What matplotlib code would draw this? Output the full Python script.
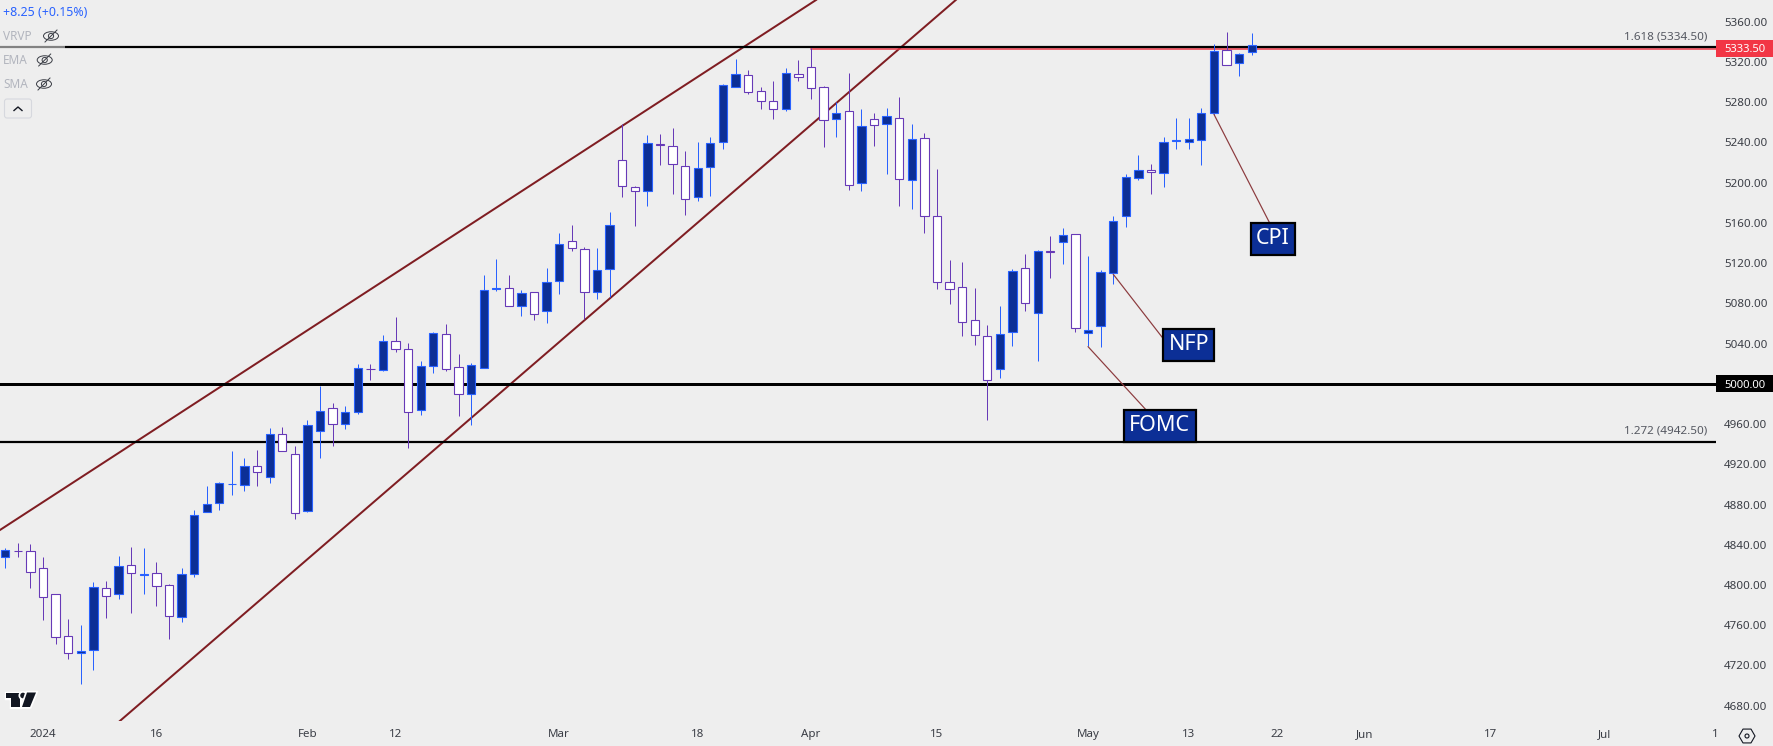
import matplotlib
matplotlib.use('Agg')
import matplotlib.pyplot as plt
import matplotlib.patheffects as pe
from matplotlib.patches import Circle, Ellipse, FancyBboxPatch, Polygon, Rectangle, RegularPolygon

plt.rcParams['font.family'] = ['Noto Sans', 'DejaVu Sans']

opens = [
    4827.5, 4834.0, 4834.1, 4817.2, 4790.7, 4749.6, 4732.0, 4735.0, 4797.3, 4790.7,
    4820.2, 4810.4, 4811.6, 4799.7, 4767.8, 4810.6, 4872.2, 4881.2, 4900.2, 4899.1,
    4918.6, 4907.7, 4949.8, 4929.9, 4873.9, 4952.7, 4975.6, 4959.7, 4971.6, 5014.9,
    5014.0, 5042.2, 5034.3, 4973.6, 5017.4, 5049.2, 5016.4, 4989.5, 5015.4, 5094.7,
    5094.9, 5077.0, 5090.9, 5072.0, 5101.9, 5141.7, 5133.7, 5090.9, 5113.8, 5222.2,
    5195.3, 5191.4, 5238.3, 5236.1, 5216.2, 5185.4, 5215.2, 5240.1, 5294.7, 5306.7,
    5290.8, 5280.8, 5272.9, 5307.7, 5314.6, 5294.8, 5262.9, 5270.9, 5199.3, 5262.9,
    5258.0, 5263.9, 5202.3, 5244.0, 5166.5, 5100.9, 5095.9, 5063.1, 5047.2, 5014.4,
    5051.2, 5114.8, 5070.1, 5131.9, 5140.6, 5148.6, 5050.2, 5057.1, 5109.8, 5166.5,
    5204.3, 5212.2, 5209.2, 5241.8, 5240.1, 5242.0, 5268.9, 5331.5, 5318.6, 5329.5,
]
closes = [
    4834.5, 4833.6, 4812.6, 4787.7, 4748.0, 4732.0, 4734.7, 4797.7, 4789.4, 4819.2,
    4811.6, 4810.8, 4798.7, 4768.8, 4810.6, 4869.3, 4880.2, 4901.1, 4900.6, 4918.6,
    4912.0, 4949.8, 4932.9, 4871.2, 4958.7, 4972.6, 4959.7, 4971.7, 5015.4, 5014.5,
    5042.2, 5034.9, 4972.3, 5017.4, 5050.2, 5014.4, 4989.5, 5018.4, 5092.9, 5095.1,
    5077.0, 5089.9, 5069.1, 5100.9, 5138.7, 5134.7, 5090.9, 5112.8, 5157.6, 5196.3,
    5191.4, 5239.1, 5237.9, 5218.2, 5183.4, 5214.2, 5239.1, 5296.7, 5307.7, 5289.8,
    5280.8, 5272.9, 5308.7, 5304.7, 5293.8, 5261.9, 5268.9, 5197.3, 5255.9, 5257.0,
    5265.9, 5203.3, 5243.0, 5166.5, 5100.9, 5093.9, 5061.1, 5048.2, 5003.4, 5049.2,
    5111.8, 5080.0, 5131.7, 5131.5, 5147.6, 5055.1, 5053.1, 5110.8, 5161.5, 5205.3,
    5212.2, 5210.2, 5240.1, 5242.2, 5243.0, 5268.9, 5330.5, 5316.6, 5327.6, 5336.5,
]
highs = [
    4836.4, 4841.4, 4840.8, 4827.5, 4790.7, 4766.2, 4759.9, 4803.0, 4804.0, 4828.8,
    4837.8, 4836.8, 4822.9, 4801.0, 4816.9, 4874.2, 4898.4, 4902.1, 4933.2, 4925.9,
    4934.2, 4956.1, 4957.1, 4938.2, 4964.0, 4997.8, 4980.9, 4978.0, 5019.7, 5019.7,
    5048.5, 5066.4, 5040.6, 5022.7, 5051.5, 5059.4, 5029.6, 5020.4, 5108.2, 5124.1,
    5108.2, 5092.9, 5090.9, 5115.1, 5149.6, 5157.9, 5135.7, 5135.0, 5170.8, 5258.0,
    5196.3, 5247.4, 5248.4, 5254.3, 5231.5, 5240.4, 5245.4, 5298.1, 5322.9, 5312.0,
    5295.1, 5301.0, 5314.0, 5321.9, 5333.9, 5296.0, 5280.5, 5309.0, 5273.2, 5269.2,
    5274.2, 5285.1, 5258.3, 5249.3, 5213.6, 5123.1, 5121.1, 5095.2, 5058.5, 5077.4,
    5113.8, 5129.0, 5132.7, 5146.9, 5154.9, 5148.6, 5127.0, 5112.8, 5166.8, 5208.3,
    5227.5, 5218.5, 5245.4, 5264.3, 5264.2, 5274.2, 5337.8, 5349.8, 5328.6, 5348.8,
]
lows = [
    4817.2, 4828.2, 4797.3, 4765.5, 4741.7, 4726.8, 4701.9, 4715.8, 4767.5, 4786.4,
    4772.5, 4791.4, 4779.4, 4746.6, 4763.5, 4808.3, 4872.2, 4874.9, 4889.8, 4893.8,
    4898.7, 4901.7, 4932.9, 4865.9, 4872.6, 4926.6, 4938.5, 4955.4, 4970.0, 5003.8,
    5012.7, 5031.6, 4936.5, 4969.3, 5011.1, 5013.1, 4968.3, 4959.4, 5015.4, 5092.6,
    5077.0, 5067.7, 5063.8, 5060.8, 5089.6, 5132.4, 5064.1, 5084.6, 5086.6, 5186.1,
    5157.2, 5177.1, 5217.9, 5189.0, 5168.2, 5182.1, 5187.0, 5233.8, 5294.7, 5288.5,
    5273.5, 5263.6, 5271.5, 5301.4, 5283.5, 5235.8, 5245.7, 5193.0, 5192.0, 5236.8,
    5208.9, 5177.1, 5174.1, 5150.3, 5094.6, 5079.7, 5047.9, 5038.9, 4964.3, 5006.1,
    5037.9, 5072.7, 5023.0, 5105.5, 5119.4, 5051.8, 5037.9, 5036.9, 5099.5, 5156.2,
    5202.9, 5189.0, 5196.0, 5233.8, 5233.8, 5217.9, 5266.9, 5316.6, 5306.3, 5327.2,
]

x_tick_pos = [3, 12, 24, 31, 44, 55, 64, 74, 86, 94, 101, 108, 118, 127, 135.8]
x_tick_labels = ['2024', '16', 'Feb', '12', 'Mar', '18', 'Apr', '15', 'May', '13',
                 '22', 'Jun', '17', 'Jul', '1']
y_ticks = list(range(4680, 5361, 40))

upper_channel_x = [-0.42, 64.4]
upper_channel_y = [4854.7, 5381.6]
lower_channel_x = [9.1, 75.5]
lower_channel_y = [4664.8, 5381.6]

fib_1618 = 5334.5
fib_1272 = 4942.5
round_level = 5000.0
last_price = 5333.5
last_line_start = 64

BG = '#eeeeee'
UP_FILL = '#0c2f96'
UP_EDGE = '#2962ff'
DOWN_EDGE = '#673ab7'
CHANNEL = '#7f1d22'
NOTE_LINE = '#8c3b3e'
TEXT = '#3a3d45'
PX = 0.72

fig = plt.figure(figsize=(17.73, 7.46), dpi=100, facecolor=BG)
ax = fig.add_axes([0, 25 / 746, 1716 / 1773, 721 / 746], facecolor=BG)
ax.set_xlim(-0.42, 135.88)
ax.set_ylim(4664.8, 5381.57)
for s in ax.spines.values():
    s.set_visible(False)

# channel and levels sit under the candles
ax.plot(upper_channel_x, upper_channel_y, color=CHANNEL, lw=2 * PX, zorder=1)
ax.plot(lower_channel_x, lower_channel_y, color=CHANNEL, lw=2 * PX, zorder=1)
ax.plot([last_line_start, 135.88], [last_price - 0.8, last_price - 0.8], color='#f23645',
        lw=1.5 * PX, zorder=1.4)
ax.axhline(fib_1618, color='black', lw=2.2 * PX, zorder=1.5)
ax.axhline(fib_1272, color='black', lw=2.2 * PX, zorder=1.5)
ax.axhline(round_level, color='black', lw=3 * PX, zorder=1.5)

for i, (o, h, l, c) in enumerate(zip(opens, highs, lows, closes)):
    up = c >= o
    edge = UP_EDGE if up else DOWN_EDGE
    fill = UP_FILL if up else 'white'
    ax.vlines(i, l, h, color=edge, lw=PX, zorder=3)
    ax.bar(i, abs(c - o), bottom=min(o, c), width=0.66, facecolor=fill, edgecolor=edge,
           linewidth=1.1 * PX, zorder=4)

ax.yaxis.tick_right()
ax.set_yticks(y_ticks)
ax.set_yticklabels([f'{v:.2f}' for v in y_ticks])
ax.tick_params(axis='y', length=0, pad=5.8, labelsize=8.3, labelcolor=TEXT)
ax.set_xticks(x_tick_pos)
ax.set_xticklabels(x_tick_labels)
ax.tick_params(axis='x', length=0, pad=5.5, labelsize=8.3, labelcolor=TEXT)
ax.get_xticklabels()[0].set_fontweight('bold')

for level, label in [(fib_1618, '1.618 (5334.50)'), (fib_1272, '1.272 (4942.50)')]:
    ax.annotate(label, xy=(0.9948, level), xycoords=ax.get_yaxis_transform(),
                xytext=(0, 8), textcoords='offset pixels', ha='right', va='baseline',
                fontsize=8.4, color='#555861', zorder=5)

# price tags on the axis
tag_w = 57 / 1716
for level, label, col in [(last_price, '5333.50', '#f23645'), (round_level, '5000.00', 'black')]:
    ax.add_patch(Rectangle((1.0, level - 8.3), tag_w, 16.6, transform=ax.get_yaxis_transform(),
                           fc=col, ec='none', clip_on=False, zorder=5.5))
    ax.text(1.0 + 8 / 1716, level, label, transform=ax.get_yaxis_transform(), ha='left',
            va='center_baseline', fontsize=8.1, color='white', fontweight='bold',
            clip_on=False, zorder=6)

notes = [('CPI', 96, 5268.0, 100.68, 5144.1, (0.44, 1.15)),
         ('NFP', 88, 5109.0, 94.0, 5038.7, (-0.05, 0.6)),
         ('FOMC', 86, 5037.0, 91.7, 4958.2, (0.31, 1.15))]
for label, xa, ya, xt, yt, rel in notes:
    ax.annotate(label, xy=(xa, ya), xytext=(xt, yt), ha='center', va='center',
                fontsize=15.5, color='white', zorder=7,
                bbox=dict(boxstyle='square,pad=0.25', fc=UP_FILL, ec='black', lw=2.2 * PX),
                arrowprops=dict(arrowstyle='-', color=NOTE_LINE, lw=1.2 * PX,
                                shrinkA=0, shrinkB=0, relpos=rel))

# overlay in pixel coordinates for the interface bits
ov = fig.add_axes([0, 0, 1, 1], facecolor='none')
ov.set_xlim(0, 1773)
ov.set_ylim(746, 0)
ov.axis('off')

ov.add_patch(Rectangle((0, 43.5), 65, 7, fc=BG, ec='none', alpha=0.55))
ov.text(3, 12.5, '+8.25 (+0.15%)', color='#2962ff', fontsize=8.9, va='center')
for name, y, ex in [('VRVP', 36, 51), ('EMA', 60, 44.7), ('SMA', 84, 44)]:
    ov.text(3, y, name, color='#b2b5be', fontsize=8.5, va='center')
    ov.add_patch(Ellipse((ex, y), 15, 8.5, fc='none', ec='#3a3d45', lw=0.7))
    ov.add_patch(Circle((ex, y), 2.6, fc='none', ec='#3a3d45', lw=0.7))
    ov.plot([ex - 6, ex + 6], [y + 6, y - 6], color='#3a3d45', lw=0.7)

ov.add_patch(FancyBboxPatch((4.5, 99), 27, 19, boxstyle='round,pad=0,rounding_size=2.5',
                            fc=BG, ec='#d6d8de', lw=0.8))
ov.plot([14, 18, 22], [110.5, 107, 110.5], color='#131722', lw=1.0)

halo = [pe.withStroke(linewidth=2.5, foreground='white')]
logo = [Polygon([(6, 692.5), (19.5, 692.5), (19.5, 707), (11, 707), (11, 698), (6, 698)]),
        Circle((23, 695.5), 2.8),
        Polygon([(27, 692.5), (36, 692.5), (30, 707), (22, 707)])]
for p in logo:
    p.set(fc='#131722', ec='none', path_effects=halo)
    ov.add_patch(p)

ov.add_patch(RegularPolygon((1747, 736), 6, radius=8, orientation=0.5236, fc='none',
                            ec='#131722', lw=0.8))
ov.add_patch(Circle((1747, 736), 2, fc='none', ec='#131722', lw=0.8))

fig.savefig('out.png', dpi=100, facecolor=BG)
